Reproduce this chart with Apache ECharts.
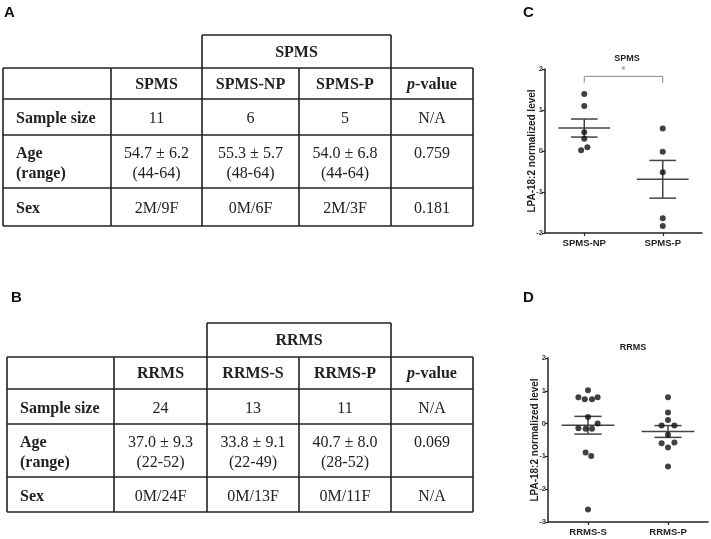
<!DOCTYPE html>
<html>
<head>
<meta charset="utf-8">
<script src="https://cdn.jsdelivr.net/npm/echarts@6/dist/echarts.min.js"></script>
<style>
  html, body { margin: 0; padding: 0; background: #fff; }
  #chart { width: 711px; height: 539px; }
</style>
</head>
<body>
<div id="chart"></div>
<script>
// table A (SPMS)
const tableAGroup = "SPMS";
const tableAHead = ["", "SPMS", "SPMS-NP", "SPMS-P", "p-value"];
const tableARows = [
  ["Sample size", "11", "6", "5", "N/A"],
  ["Age\n(range)", "54.7 ± 6.2\n(44-64)", "55.3 ± 5.7\n(48-64)", "54.0 ± 6.8\n(44-64)", "0.759\n"],
  ["Sex", "2M/9F", "0M/6F", "2M/3F", "0.181"]
];

// table B (RRMS)
const tableBGroup = "RRMS";
const tableBHead = ["", "RRMS", "RRMS-S", "RRMS-P", "p-value"];
const tableBRows = [
  ["Sample size", "24", "13", "11", "N/A"],
  ["Age\n(range)", "37.0 ± 9.3\n(22-52)", "33.8 ± 9.1\n(22-49)", "40.7 ± 8.0\n(28-52)", "0.069\n"],
  ["Sex", "0M/24F", "0M/13F", "0M/11F", "N/A"]
];

// panel C: SPMS scatter
const spmsCategories = ["SPMS-NP", "SPMS-P"];
const spmsNpValues = [1.39, 1.10, 0.46, 0.30, 0.09, 0.02];
const spmsNpJitter = [0, 0, 0, 0, 0.04, -0.04];
const spmsPValues = [0.55, -0.02, -0.52, -1.64, -1.83];
const spmsPJitter = [0, 0, 0, 0, 0];
const spmsMeans = [0.56, -0.69];
const spmsSems = [0.22, 0.46];
const spmsSignif = "*";

// panel D: RRMS scatter
const rrmsCategories = ["RRMS-S", "RRMS-P"];
const rrmsSValues = [1.02, 0.80, 0.74, 0.74, 0.80, 0.20, -0.14, -0.16, -0.16, 0.00, -0.88, -0.99, -2.62];
const rrmsSJitter = [0, -0.12, -0.04, 0.05, 0.12, 0, -0.12, -0.03, 0.05, 0.12, -0.03, 0.04, 0];
const rrmsPValues = [0.80, 0.34, 0.11, -0.06, -0.06, -0.34, -0.60, -0.58, -0.73, -1.31];
const rrmsPJitter = [0, 0, 0, -0.08, 0.08, 0, -0.08, 0.08, 0, 0];
const rrmsMeans = [-0.05, -0.24];
const rrmsSems = [0.27, 0.18];

const yName = "LPA-18:2 normalized level";

const SERIF = "'Liberation Serif', 'DejaVu Serif', serif";
const SANS = "'Liberation Sans', Arial, sans-serif";
const INK = "#222";

// table drawn with graphic elements
function buildTable(cols, rows, groupTop, group, head, body) {
  const els = [];
  const lw = 1.6;
  const line = (x1, y1, x2, y2) => els.push({
    type: "line", shape: { x1, y1, x2, y2 },
    style: { stroke: INK, lineWidth: lw }, silent: true
  });
  // group box
  line(cols[2], groupTop, cols[4], groupTop);
  line(cols[2], groupTop, cols[2], rows[0]);
  line(cols[4], groupTop, cols[4], rows[0]);
  els.push({
    type: "text",
    style: {
      text: group, x: (cols[2] + cols[4]) / 2, y: (groupTop + rows[0]) / 2 + 1,
      align: "center", verticalAlign: "middle",
      fontFamily: SERIF, fontSize: 16, fontWeight: "bold", fill: INK
    }
  });
  // grid lines
  rows.forEach(y => line(cols[0], y, cols[cols.length - 1], y));
  cols.forEach(x => line(x, rows[0], x, rows[rows.length - 1]));
  // header
  head.forEach((t, i) => {
    if (!t) return;
    const isP = t === "p-value";
    els.push({
      type: "text",
      style: {
        text: isP ? "{i|p}{b|-value}" : t,
        x: (cols[i] + cols[i + 1]) / 2, y: (rows[0] + rows[1]) / 2 + 1,
        align: "center", verticalAlign: "middle",
        fontFamily: SERIF, fontSize: 16, fontWeight: "bold", fill: INK,
        rich: {
          i: { fontFamily: SERIF, fontSize: 16, fontStyle: "italic", fontWeight: "bold", fill: INK },
          b: { fontFamily: SERIF, fontSize: 16, fontWeight: "bold", fill: INK }
        }
      }
    });
  });
  // body
  body.forEach((r, ri) => {
    const yc = (rows[ri + 1] + rows[ri + 2]) / 2 + 2;
    r.forEach((t, ci) => {
      const first = ci === 0;
      els.push({
        type: "text",
        style: {
          text: t,
          x: first ? cols[0] + 13 : (cols[ci] + cols[ci + 1]) / 2,
          y: yc,
          align: first ? "left" : "center", verticalAlign: "middle",
          fontFamily: SERIF, fontSize: 16, lineHeight: 20,
          fontWeight: first ? "bold" : "normal", fill: INK
        }
      });
    });
  });
  return els;
}

function panelLabel(text, x, y) {
  return {
    type: "text",
    style: { text, x, y, fontFamily: SANS, fontSize: 15, fontWeight: "bold", fill: "#111" }
  };
}

function pts(values, jitter, pos) {
  return values.map((v, i) => [pos + jitter[i], v]);
}

// mean line with SEM whiskers
function meanSemItem(params, api) {
  const x = api.value(0), m = api.value(1), s = api.value(2);
  const a = api.coord([x - 0.33, m]), b = api.coord([x + 0.33, m]);
  const hi = api.coord([x, m + s]), lo = api.coord([x, m - s]);
  const hw = api.size([0.17, 0])[0];
  const st = { stroke: "#444", lineWidth: 1.5 };
  return {
    type: "group",
    children: [
      { type: "line", shape: { x1: a[0], y1: a[1], x2: b[0], y2: b[1] }, style: st },
      { type: "line", shape: { x1: hi[0], y1: hi[1], x2: lo[0], y2: lo[1] }, style: st },
      { type: "line", shape: { x1: hi[0] - hw, y1: hi[1], x2: hi[0] + hw, y2: hi[1] }, style: st },
      { type: "line", shape: { x1: lo[0] - hw, y1: lo[1], x2: lo[0] + hw, y2: lo[1] }, style: st }
    ]
  };
}

function xAxisFor(gridIndex, cats) {
  return {
    gridIndex, type: "value", min: 0.5, max: 2.5,
    axisLine: { show: true, onZero: false, lineStyle: { color: INK, width: 1.5 } },
    axisTick: { show: true, length: 3, customValues: [1, 2], lineStyle: { color: INK, width: 1.2 } },
    axisLabel: {
      customValues: [1, 2], margin: 5,
      formatter: v => cats[Math.round(v) - 1] || "",
      fontFamily: SANS, fontSize: 9.5, fontWeight: "bold", color: INK
    },
    splitLine: { show: false }
  };
}

function yAxisFor(gridIndex, min, max) {
  return {
    gridIndex, type: "value", min, max, interval: 1,
    name: yName, nameLocation: "middle", nameGap: 8, nameMoveOverlap: false,
    nameTextStyle: { fontFamily: SANS, fontSize: 10, fontWeight: "bold", color: INK },
    axisLine: { show: true, onZero: false, lineStyle: { color: INK, width: 1.5 } },
    axisTick: { show: true, length: 3, lineStyle: { color: INK, width: 1.2 } },
    axisLabel: { fontFamily: SANS, fontSize: 7.5, fontWeight: "bold", color: "#333", margin: 2 },
    splitLine: { show: false }
  };
}

const chart = echarts.init(document.getElementById("chart"), null, { renderer: "canvas" });

const dotStyle = { color: "#111" };

const option = {
  animation: false,
  backgroundColor: "#fff",
  title: [
    { text: "SPMS", left: 622, top: 49, textAlign: "center",
      textStyle: { fontFamily: SANS, fontSize: 9, fontWeight: "bold", color: INK } },
    { text: "RRMS", left: 628, top: 338, textAlign: "center",
      textStyle: { fontFamily: SANS, fontSize: 9, fontWeight: "bold", color: INK } }
  ],
  grid: [
    { left: 545, top: 69, width: 157, height: 164, outerBoundsMode: "none" },
    { left: 548, top: 358, width: 160, height: 164, outerBoundsMode: "none" }
  ],
  xAxis: [xAxisFor(0, spmsCategories), xAxisFor(1, rrmsCategories)],
  yAxis: [yAxisFor(0, -2, 2), yAxisFor(1, -3, 2)],
  series: [
    { type: "scatter", xAxisIndex: 0, yAxisIndex: 0, symbolSize: 6, itemStyle: dotStyle,
      data: pts(spmsNpValues, spmsNpJitter, 1) },
    { type: "scatter", xAxisIndex: 0, yAxisIndex: 0, symbolSize: 6, itemStyle: dotStyle,
      data: pts(spmsPValues, spmsPJitter, 2) },
    { type: "custom", xAxisIndex: 0, yAxisIndex: 0, renderItem: meanSemItem,
      data: spmsMeans.map((m, i) => [i + 1, m, spmsSems[i]]) },
    // significance bracket
    { type: "line", xAxisIndex: 0, yAxisIndex: 0, symbol: "none",
      lineStyle: { color: "#888", width: 1 },
      data: [[1, 1.66], [1, 1.82], [2, 1.82], [2, 1.66]] },
    { type: "scatter", xAxisIndex: 0, yAxisIndex: 0, symbolSize: 0,
      label: { show: true, formatter: spmsSignif, position: "inside",
        fontFamily: SANS, fontSize: 11, color: "#666" },
      data: [[1.5, 1.96]] },

    { type: "scatter", xAxisIndex: 1, yAxisIndex: 1, symbolSize: 6, itemStyle: dotStyle,
      data: pts(rrmsSValues, rrmsSJitter, 1) },
    { type: "scatter", xAxisIndex: 1, yAxisIndex: 1, symbolSize: 6, itemStyle: dotStyle,
      data: pts(rrmsPValues, rrmsPJitter, 2) },
    { type: "custom", xAxisIndex: 1, yAxisIndex: 1, renderItem: meanSemItem,
      data: rrmsMeans.map((m, i) => [i + 1, m, rrmsSems[i]]) }
  ],
  graphic: [
    panelLabel("A", 4, 5),
    panelLabel("B", 11, 290),
    panelLabel("C", 523, 5),
    panelLabel("D", 523, 290),
    ...buildTable([3, 111, 202, 299, 391, 473], [68, 99, 135, 188, 226], 35,
      tableAGroup, tableAHead, tableARows),
    ...buildTable([7, 114, 207, 299, 391, 473], [357, 389, 424, 477, 512], 323,
      tableBGroup, tableBHead, tableBRows)
  ]
};

chart.setOption(option);
</script>
</body>
</html>
